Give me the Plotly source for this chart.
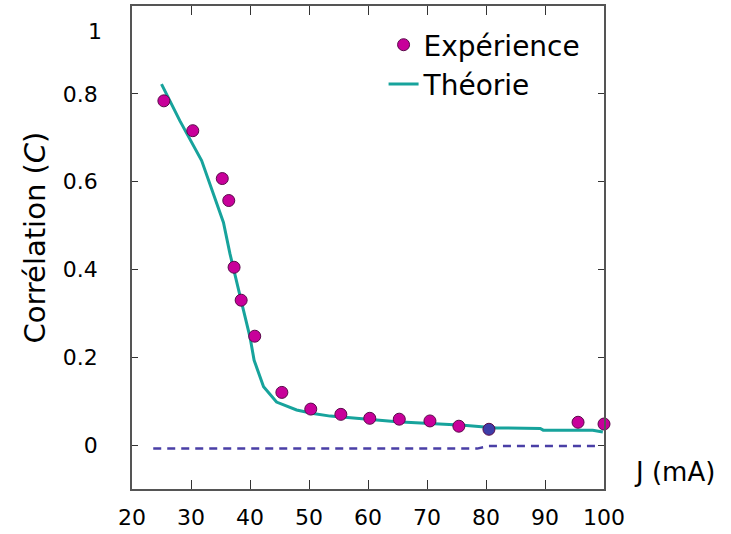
import plotly.graph_objects as go

# Experimental points
exp_J = [25.4, 30.3, 35.3, 36.4, 37.3, 38.5, 40.8, 45.4, 50.3, 55.4, 60.3, 65.3, 70.5, 75.4, 80.5, 95.6, 100.0]
exp_C = [0.784, 0.716, 0.607, 0.557, 0.405, 0.330, 0.248, 0.120, 0.082, 0.070, 0.061, 0.059, 0.055, 0.043, 0.036, 0.052, 0.048]

# Theory curve
th_J = [25.0, 28.1, 31.8, 34.2, 35.5, 36.6, 37.5, 38.9, 40.0, 40.7, 42.3, 44.5, 47.9, 50.7, 53.6, 59.2, 64.9, 70.5, 76.2, 81.8, 89.2, 89.7, 98.1, 99.8]
th_C = [0.822, 0.739, 0.648, 0.557, 0.507, 0.436, 0.383, 0.307, 0.246, 0.193, 0.133, 0.098, 0.080, 0.072, 0.066, 0.059, 0.053, 0.049, 0.045, 0.039, 0.038, 0.034, 0.034, 0.030]

# Dashed baseline
base_J = [23.6, 78.5, 80.5, 99.3]
base_C = [-0.008, -0.008, -0.002, -0.002]

x_ticks = [20, 30, 40, 50, 60, 70, 80, 90, 100]
y_ticks = [0, 0.2, 0.4, 0.6, 0.8, 1]
y_ticktext = ["0", "0.2", "0.4", "0.6", "0.8", ""]

FONT = "Comic Sans MS, DejaVu Sans, sans-serif"
MAGENTA = "#c8009a"
exp_colors = ["#3d3da8" if j == 80.5 else MAGENTA for j in exp_J]

fig = go.Figure()
fig.add_trace(go.Scatter(
    x=base_J, y=base_C, mode="lines", showlegend=False,
    line=dict(color="#4a3fa6", width=2.5, dash="8px,6px"), hoverinfo="skip"))
fig.add_trace(go.Scatter(
    x=th_J, y=th_C, mode="lines", name="Théorie",
    line=dict(color="#17a39c", width=3)))
fig.add_trace(go.Scatter(
    x=exp_J, y=exp_C, mode="markers", name="Expérience",
    marker=dict(size=12, color=exp_colors, line=dict(color="#5a0a4a", width=1)),
    cliponaxis=False))

fig.update_layout(
    width=731, height=534,
    margin=dict(l=132, r=127, t=6, b=45),
    paper_bgcolor="white", plot_bgcolor="white",
    font=dict(family=FONT, size=22, color="black"),
    legend=dict(x=0.533, y=0.971, xanchor="left", yanchor="top",
                bgcolor="rgba(0,0,0,0)", font=dict(size=28),
                traceorder="reversed", tracegroupgap=0, itemwidth=30),
    xaxis=dict(range=[20, 100], tickvals=x_ticks, ticks="inside", ticklen=9,
               tickcolor="#333", showline=True, linecolor="#555", linewidth=1.5,
               mirror="ticks", showgrid=False, zeroline=False, automargin=False,
               ticklabelstandoff=8, tickfont=dict(size=22)),
    yaxis=dict(range=[-0.1, 1.0], tickvals=y_ticks, ticktext=y_ticktext,
               ticks="inside", ticklen=6, tickcolor="#333",
               showline=True, linecolor="#555", linewidth=1.5, mirror="ticks",
               showgrid=False, zeroline=False, automargin=False,
               ticklabelstandoff=28, tickfont=dict(size=22)),
    annotations=[
        dict(text="Corrélation (<i>C</i>)", xref="paper", yref="paper", x=-0.206, y=0.52,
             textangle=-90, showarrow=False, font=dict(size=29),
             xanchor="center", yanchor="middle"),
        dict(text="J (mA)", xref="paper", yref="paper", x=1.15, y=0.035,
             showarrow=False, font=dict(size=26), xanchor="center", yanchor="middle"),
        dict(text="1", xref="paper", yref="paper", x=-0.06, y=0.948,
             showarrow=False, font=dict(size=22), xanchor="right", yanchor="middle"),
    ],
)

fig.write_html("out.html", config={"displayModeBar": False},
               post_script="document.body.style.margin='0';")
